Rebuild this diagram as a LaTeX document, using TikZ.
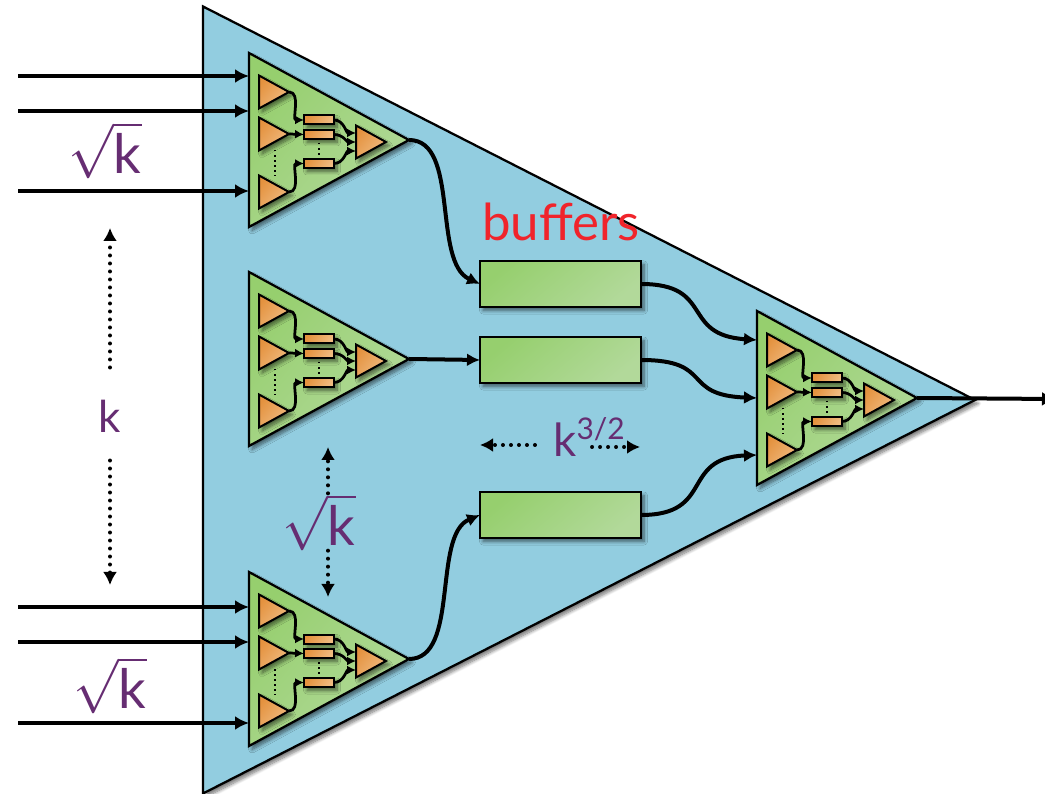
\documentclass[tikz,border=0pt]{standalone}
\usepackage{amsmath}
\usepackage{fontspec}
\setmainfont{Lato}
\usetikzlibrary{arrows.meta,shadows.blur,shapes.geometric}

\definecolor{bigblue}{HTML}{92CDE0}
\definecolor{greendark}{HTML}{96CF6E}
\definecolor{greenlight}{HTML}{B2D99A}
\definecolor{orangedark}{HTML}{E4923F}
\definecolor{orangelight}{HTML}{F0BC82}
\definecolor{labelpurple}{HTML}{662D72}
\definecolor{bufred}{HTML}{F0242B}

\tikzset{
  softshadow/.style={blur shadow={shadow xshift=0.6mm,shadow yshift=-0.7mm,shadow blur radius=0.7mm,
                     shadow blur steps=8,shadow opacity=55}},
  tri/.style={draw=black, isosceles triangle, isosceles triangle stretches, anchor=lower side,
              inner sep=0pt, outer sep=0pt, line width=0.45mm},
  bigtri/.style={tri, fill=bigblue, minimum width=157.4mm, minimum height=154.4mm, softshadow},
  amptri/.style={tri, shade, top color=greendark, middle color=greenlight, bottom color=greenlight, shading angle=50,
                 minimum width=34.8mm, minimum height=32mm, softshadow},
  smalltri/.style={tri, shade, top color=orangedark, bottom color=orangelight, shading angle=50,
                 minimum width=6.6mm, minimum height=6mm, line width=0.4mm, softshadow},
  smallbuf/.style={draw=black, rectangle, shade, top color=orangedark, bottom color=orangelight, shading angle=60,
                 minimum width=6mm, minimum height=1.8mm, inner sep=0pt, outer sep=0pt, line width=0.4mm, softshadow},
  buffer/.style={draw=black, rectangle, shade, top color=greendark, middle color=greenlight, bottom color=greenlight, shading angle=40,
                 minimum width=32.2mm, minimum height=9.2mm, inner sep=0pt, outer sep=0pt, line width=0.45mm, softshadow},
  wire/.style={-{Latex[length=2.8mm,width=2.8mm]}, line width=0.8mm},
  curvewire/.style={-{Latex[length=2.6mm,width=2.6mm]}, line width=0.8mm},
  innerwire/.style={-{Latex[length=1.8mm,width=1.8mm]}, line width=0.55mm},
  dotarrow/.style={-{Latex[length=2.6mm,width=2.8mm]}, line width=0.8mm, line cap=round, dash pattern=on 0pt off 1.6mm},
  innerdots/.style={line width=0.3mm, dotted},
  purplelabel/.style={text=labelpurple, inner sep=0pt},
  amp/.pic={
    \node[amptri] (-body) at (0,0) {};
    \node[smalltri] (-t1) at (10,-48) {};
    \node[smalltri] (-t2) at (10,-6) {};
    \node[smalltri] (-t3) at (10,52) {};
    \node[smalltri] (-tout) at (107,2) {};
    \node[smallbuf] (-b1) at (70,-20) {};
    \node[smallbuf] (-b2) at (70,-5.5) {};
    \node[smallbuf] (-b3) at (70,23.5) {};
    \coordinate (-o1) at (107,-7);
    \coordinate (-o2) at (107,2);
    \coordinate (-o3) at (107,11);
    \coordinate (-d1) at (26,10);
    \coordinate (-d2) at (26,36);
    \coordinate (-d3) at (70,3);
    \coordinate (-d4) at (70,17);
    \draw[innerwire] (-t1.apex) to[out=0,in=180] (-b1.west);
    \draw[innerwire] (-t2.apex) -- (-b2.west);
    \draw[innerwire] (-t3.apex) to[out=0,in=180] (-b3.west);
    \draw[innerwire] (-b1.east) to[out=0,in=180] (-o1);
    \draw[innerwire] (-b2.east) to[out=0,in=180] (-o2);
    \draw[innerwire] (-b3.east) to[out=0,in=180] (-o3);
    \draw[innerdots] (-d1) -- (-d2);
    \draw[innerdots] (-d3) -- (-d4);
  }
}

\begin{document}
\begin{tikzpicture}[x=0.2mm, y=-0.2mm]
\useasboundingbox (0,0) rectangle (1045,794);

\node[bigtri] (big) at (203,400) {};

\pic (top) at (249,140) {amp};
\pic (mid) at (249,359) {amp};
\pic (bot) at (249,659) {amp};
\pic (last) at (757,398) {amp};

\node[buffer] (buf1) at (560.5,284) {};
\node[buffer] (buf2) at (560.5,360) {};
\node[buffer] (buf3) at (560.5,515) {};

% free ends of the input lines
\coordinate (s1) at (18,76);
\coordinate (s2) at (18,111);
\coordinate (s3) at (18,191);
\coordinate (s4) at (18,607);
\coordinate (s5) at (18,642);
\coordinate (s6) at (18,723);
\coordinate (lastin1) at (757,340);
\coordinate (lastin2) at (757,398);
\coordinate (lastin3) at (757,455);
\coordinate (outend) at (1056,399);

\draw[wire] (s1) -- (s1 -| top-body.lower side);
\draw[wire] (s2) -- (s2 -| top-body.lower side);
\draw[wire] (s3) -- (s3 -| top-body.lower side);
\draw[wire] (s4) -- (s4 -| bot-body.lower side);
\draw[wire] (s5) -- (s5 -| bot-body.lower side);
\draw[wire] (s6) -- (s6 -| bot-body.lower side);

\draw[curvewire] (top-body.apex) .. controls (460,140) and (432,262) .. (buf1.west);
\draw[curvewire] (mid-body.apex) -- (buf2.west);
\draw[curvewire] (bot-body.apex) .. controls (460,659) and (432,535) .. (buf3.west);
\draw[curvewire] (buf1.east) .. controls (715,284) and (680,335) .. (lastin1);
\draw[curvewire] (buf2.east) .. controls (715,360) and (680,395) .. (lastin2);
\draw[curvewire] (buf3.east) .. controls (715,515) and (680,458) .. (lastin3);
\draw[wire] (last-body.apex) -- (outend);

\node[text=bufred, font=\fontsize{29}{29}\selectfont, inner sep=0pt] (buflabel) at (561,222) {buffers};

\node[purplelabel] (rootA) at (105,150) {\scalebox{3.1}{$\sqrt{\text{k}}$}};
\node[purplelabel] (rootB) at (110,685) {\scalebox{3.1}{$\sqrt{\text{k}}$}};
\node[purplelabel] (rootC) at (319,522) {\scalebox{3.1}{$\sqrt{\text{k}}$}};
\node[purplelabel, font=\fontsize{25}{25}\selectfont] (klabel) at (110,416) {k};
\node[purplelabel, font=\fontsize{26}{26}\selectfont] (kpow) at (589,437) {k\raisebox{3.4mm}{\fontsize{17}{17}\selectfont 3/2}};

% dotted extent arrows
\coordinate (kup) at (110,228);
\coordinate (kdown) at (110,585);
\coordinate (rootup) at (328,447);
\coordinate (rootdown) at (328,597);
\coordinate (powleft) at (480,445);
\coordinate (powright) at (640,447);
\draw[dotarrow, shorten <=6.4mm] (klabel.north) -- (kup);
\draw[dotarrow, shorten <=5.6mm] (klabel.south) -- (kdown);
\draw[dotarrow] (rootC.north -| rootup) -- (rootup);
\draw[dotarrow] (rootC.south -| rootdown) -- (rootdown);
\draw[dotarrow, shorten <=3.6mm] (kpow.west |- powleft) -- (powleft);
\draw[dotarrow, shorten <=-6.6mm] (kpow.east |- powright) -- (powright);
\end{tikzpicture}
\end{document}
